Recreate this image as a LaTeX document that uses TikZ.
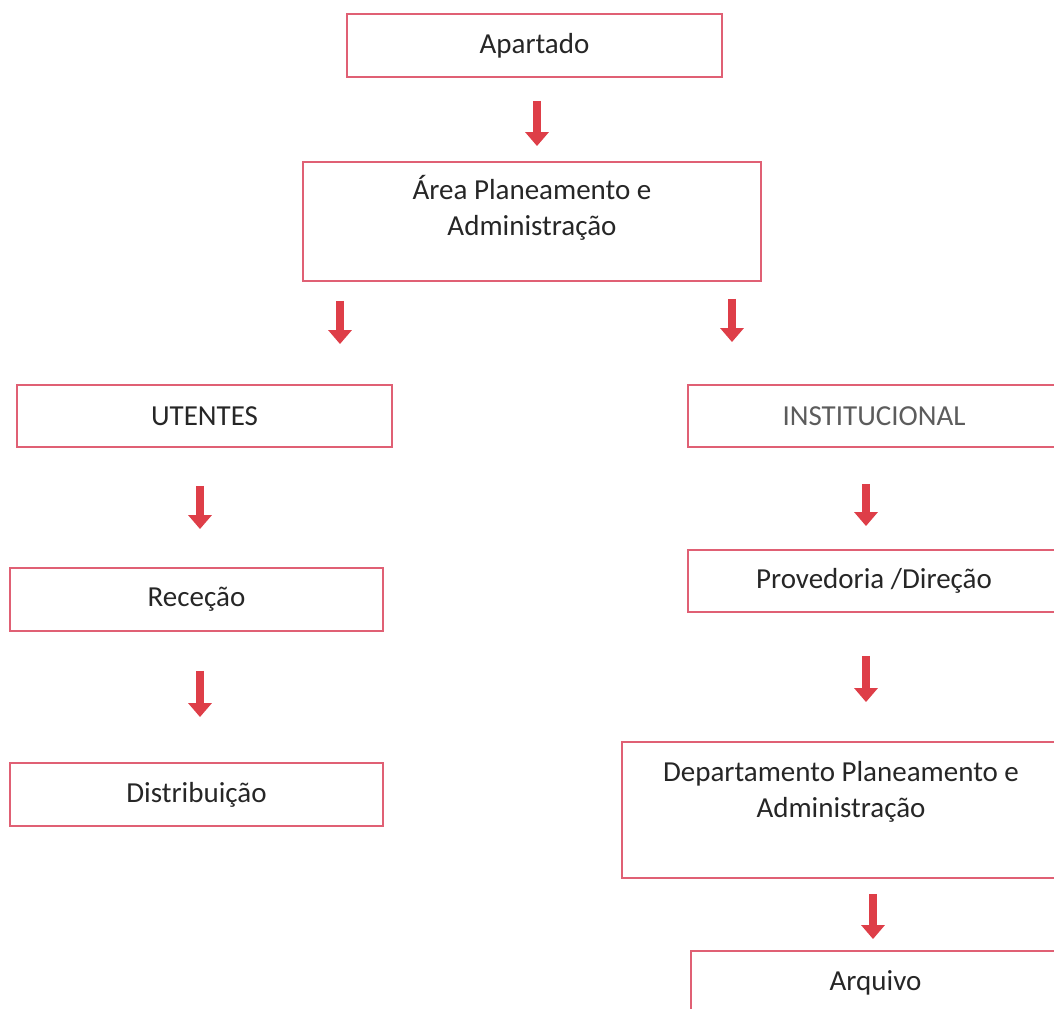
\documentclass[tikz,border=0pt]{standalone}
\usepackage{fontspec}
\setmainfont{Carlito}
\usetikzlibrary{arrows.meta}
\definecolor{boxred}{RGB}{224,96,116}
\definecolor{arrowred}{RGB}{222,62,72}
\definecolor{txt}{RGB}{38,38,38}
\begin{document}
\begin{tikzpicture}[x=0.02cm, y=-0.02cm,
    box/.style={draw=boxred, line width=1.1pt, rectangle, text=txt, align=center,
      font=\fontsize{16.5}{20.5}\selectfont, inner sep=0pt},
    flow/.style={draw=arrowred, line width=5pt,
      -{Triangle[width=0.46cm, length=0.28cm]}},
    gap/.style 2 args={shorten <=#1*0.02cm, shorten >=#2*0.02cm}]
    \useasboundingbox (0,0) rectangle (1054,1008);
    \clip (0,0) rectangle (1054,1008);

    \node[box, minimum width=7.5cm, minimum height=1.26cm] (b1) at (534.5,45.5) {Apartado};
    \node[box, minimum width=9.16cm, minimum height=2.38cm, text depth=0.64cm] (b2) at (532,221.5)
      {Área Planeamento e\\Administração};
    \node[box, minimum width=7.5cm, minimum height=1.24cm] (b3) at (204.5,416) {UTENTES};
    \node[box, minimum width=7.44cm, minimum height=1.24cm, text=txt!75] (b4) at (874,416) {INSTITUCIONAL};
    \node[box, minimum width=7.46cm, minimum height=1.26cm] (b5) at (196.5,599.5) {Receção};
    \node[box, minimum width=7.44cm, minimum height=1.24cm] (b6) at (874,581) {Provedoria /Direção};
    \node[box, minimum width=7.46cm, minimum height=1.26cm] (b7) at (196.5,794.5) {Distribuição};
    \node[box, minimum width=8.76cm, minimum height=2.72cm, text depth=0.84cm] (b8) at (841,810)
      {Departamento Planeamento e\\Administração};
    \node[box, minimum width=7.38cm, minimum height=1.28cm] (b9) at (875.5,983) {Arquivo};

    \coordinate (c1) at (537,0);
    \coordinate (c2) at (340,0);
    \coordinate (c3) at (732,0);
    \coordinate (c4) at (200,0);
    \coordinate (c5) at (866,0);
    \coordinate (c6) at (873,0);

    \draw[flow, gap={23}{15}] (b1.south -| c1) -- (b2.north -| c1);
    \draw[flow, gap={19}{40}] (b2.south -| c2) -- (b3.north -| c2);
    \draw[flow, gap={17}{42}] (b2.south -| c3) -- (b4.north -| c3);
    \draw[flow, gap={38}{38}] (b3.south -| c4) -- (b5.north -| c4);
    \draw[flow, gap={36}{23}] (b4.south -| c5) -- (b6.north -| c5);
    \draw[flow, gap={39}{45}] (b5.south -| c4) -- (b7.north -| c4);
    \draw[flow, gap={43}{39}] (b6.south -| c5) -- (b8.north -| c5);
    \draw[flow, gap={15}{11}] (b8.south -| c6) -- (b9.north -| c6);
\end{tikzpicture}
\end{document}
